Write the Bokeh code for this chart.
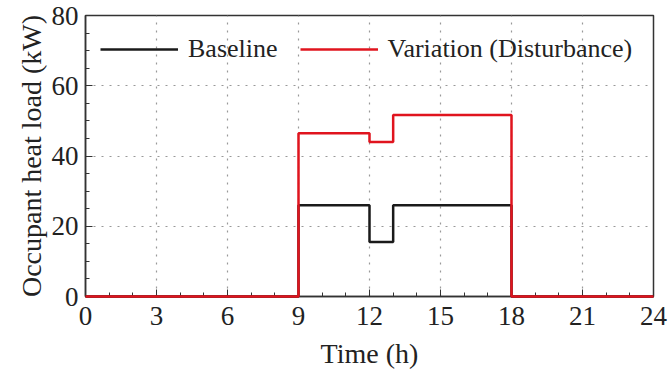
from bokeh.plotting import figure
from bokeh.models import Legend, LegendItem, FixedTicker, Range1d
from bokeh.embed import file_html
from bokeh.resources import INLINE

# Step profiles (time in h, load in kW)
time_h = [0, 9, 9, 12, 12, 13, 13, 18, 18, 24]
baseline = [0, 0, 26, 26, 15.5, 15.5, 26, 26, 0, 0]
variation = [0, 0, 46.5, 46.5, 44, 44, 51.7, 51.7, 0, 0]
x_ticks = [0, 3, 6, 9, 12, 15, 18, 21, 24]
y_ticks = [0, 20, 40, 60, 80]

FONT = "Liberation Serif"

p = figure(width=669, height=374, output_backend="svg", toolbar_location=None,
           x_range=Range1d(0, 24), y_range=Range1d(0, 80),
           min_border_left=85, min_border_right=16, min_border_top=15, min_border_bottom=78)
p.background_fill_color = "white"
p.border_fill_color = "white"
p.outline_line_color = "#333333"
p.outline_line_width = 1.5

l1 = p.line(time_h, baseline, line_color="#1a1a1a", line_width=2.5, level="overlay")
l2 = p.line(time_h, variation, line_color="#e0141e", line_width=2.5, level="overlay")

for ax in (p.xaxis[0], p.yaxis[0]):
    ax.major_label_text_font = FONT
    ax.major_label_text_font_size = "27px"
    ax.major_label_text_color = "#222222"
    ax.axis_label_text_font = FONT
    ax.axis_label_text_font_size = "28px"
    ax.axis_label_text_font_style = "normal"
    ax.axis_label_text_color = "#222222"
    ax.axis_line_color = "#333333"
    ax.axis_line_width = 1.5
    ax.major_tick_in = 7
    ax.major_tick_out = 0
    ax.minor_tick_in = 4
    ax.minor_tick_out = 0
    ax.major_tick_line_color = "#333333"
    ax.minor_tick_line_color = "#333333"

p.xaxis[0].ticker = FixedTicker(ticks=x_ticks, minor_ticks=list(range(0, 25)))
p.yaxis[0].ticker = FixedTicker(ticks=y_ticks, minor_ticks=list(range(0, 81, 5)))
p.xaxis[0].axis_label = "Time (h)"
p.yaxis[0].axis_label = "Occupant heat load (kW)"
p.xaxis[0].major_label_standoff = 10
p.yaxis[0].major_label_standoff = 7
p.xaxis[0].axis_label_standoff = 10
p.yaxis[0].axis_label_standoff = 2

for g in (p.xgrid[0], p.ygrid[0]):
    g.grid_line_color = "#999999"
    g.grid_line_dash = "2 6"
    g.grid_line_width = 1.2
p.xgrid[0].ticker = FixedTicker(ticks=x_ticks)
p.ygrid[0].ticker = FixedTicker(ticks=y_ticks)

legend = Legend(items=[LegendItem(label="Baseline", renderers=[l1]),
                       LegendItem(label="Variation (Disturbance)", renderers=[l2])],
                orientation="horizontal", location=(11, 228),
                label_text_font=FONT, label_text_font_size="26px",
                label_text_color="#222222",
                glyph_width=78, glyph_height=20, label_standoff=10, spacing=22,
                padding=4, margin=0, border_line_alpha=0, background_fill_alpha=0)
p.add_layout(legend, "center")

open("out.html", "w").write(file_html(p, INLINE))
